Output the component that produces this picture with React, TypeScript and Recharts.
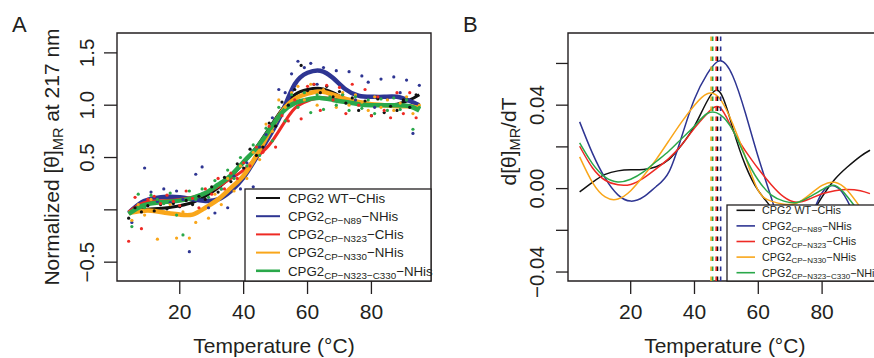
import React from "react";
import { ComposedChart, Line, Scatter, XAxis, YAxis, ReferenceArea, ReferenceLine } from "recharts";

const FONT = "'Liberation Sans', Arial, Helvetica, sans-serif";
const INK = "#231f20";

const SERIES_NAMES = ["CPG2 WT-CHis", "CPG2 CP-N89-NHis", "CPG2 CP-N323-CHis", "CPG2 CP-N330-NHis", "CPG2 CP-N323-C330-NHis"];
const COLORS = ["#111111", "#2e3592", "#ee2a24", "#f9a61a", "#2aa84a"];
const LEGEND_SUB = ["", "CP\u2212N89", "CP\u2212N323", "CP\u2212N330", "CP\u2212N323\u2212C330"];
const LEGEND_SUFFIX = [" WT\u2212CHis", "\u2212NHis", "\u2212CHis", "\u2212NHis", "\u2212NHis"];

// temperatures
const T_EVEN = [4, 6, 8, 10, 12, 14, 16, 18, 20, 22, 24, 26, 28, 30, 32, 34, 36, 38, 40, 42, 44, 46, 48, 50, 52, 54, 56, 58, 60, 62, 64, 66, 68, 70, 72, 74, 76, 78, 80, 82, 84, 86, 88, 90, 92, 94];
const T_ODD = [5, 7, 9, 11, 13, 15, 17, 19, 21, 23, 25, 27, 29, 31, 33, 35, 37, 39, 41, 43, 45, 47, 49, 51, 53, 55, 57, 59, 61, 63, 65, 67, 69, 71, 73, 75, 77, 79, 81, 83, 85, 87, 89, 91, 93, 95];
const T_FIT = [4, 8, 12, 16, 20, 24, 28, 32, 36, 40, 44, 48, 52, 56, 60, 64, 68, 72, 76, 80, 84, 88, 92, 95];

// Panel A measured points
const ptsBlack = [-0.08, 0.02, -0.02, 0.04, -0.01, 0.05, 0.01, 0.06, 0.03, 0.09, 0.05, 0.13, 0.10, 0.22, 0.17, 0.31, 0.27, 0.44, 0.40, 0.58, 0.52, 0.60, 0.83, 0.80, 1.03, 1.00, 1.15, 1.38, 1.14, 1.20, 1.12, 1.18, 1.08, 1.13, 1.02, 1.07, 0.95, 1.04, 0.90, 1.06, 0.93, 0.99, 0.95, 1.05, 0.98, 1.10];
const ptsBlue = [-0.12, 0.05, 0.40, 0.17, 0.08, 0.20, 0.07, 0.18, 0.10, -0.40, 0.34, 0.41, 0.02, -0.03, 0.20, 0.02, 0.32, 0.20, 0.45, 0.22, 0.60, 0.72, 0.88, 1.15, 1.12, 1.30, 1.42, 1.36, 1.40, 1.20, 1.36, 1.28, 1.33, 1.10, 1.32, 1.05, 1.28, 1.22, 0.98, 1.25, 1.06, 1.27, 1.12, 1.24, 0.73, 1.19];
const ptsRed = [-0.30, 0.12, -0.18, 0.10, 0.13, 0.06, 0.14, 0.08, 0.04, 0.18, 0.11, 0.02, 0.20, 0.15, 0.30, 0.20, 0.35, 0.30, 0.45, 0.42, 0.60, 0.55, 0.80, 0.60, 0.90, 0.85, 1.05, 0.87, 1.18, 1.20, 0.95, 1.19, 1.05, 1.17, 0.92, 1.20, 1.00, 1.15, 0.90, 1.08, 0.95, 0.88, 1.12, 0.92, 1.12, 0.88];
const ptsOrange = [-0.10, 0.05, -0.05, 0.10, -0.28, -0.02, 0.05, -0.27, -0.02, -0.27, -0.12, 0.00, -0.08, 0.15, 0.05, 0.30, 0.18, 0.42, 0.30, 0.55, 0.48, 0.82, 0.75, 1.05, 0.98, 1.12, 1.18, 1.05, 1.20, 1.00, 1.15, 1.10, 0.98, 1.12, 1.00, 1.10, 1.03, 0.95, 1.08, 0.98, 1.05, 0.95, 1.02, 1.08, 0.92, 1.00];
const ptsGreen = [-0.16, 0.15, 0.02, 0.14, 0.10, 0.06, 0.16, -0.05, -0.24, 0.18, 0.10, 0.20, 0.12, 0.28, 0.20, 0.38, 0.30, 0.50, 0.42, 0.62, 0.52, 0.78, 0.66, 0.98, 0.85, 1.10, 0.98, 1.12, 0.93, 1.10, 0.96, 1.08, 1.00, 1.10, 0.95, 1.08, 0.97, 1.05, 0.92, 1.06, 0.95, 1.07, 0.96, 1.05, 0.77, 0.98];

// Panel A fitted curves
const fitBlack = [-0.02, 0.0, 0.01, 0.02, 0.04, 0.07, 0.13, 0.21, 0.32, 0.45, 0.60, 0.78, 0.96, 1.10, 1.15, 1.16, 1.12, 1.06, 1.02, 1.00, 1.00, 1.01, 1.05, 1.10];
const fitBlue = [-0.03, 0.07, 0.11, 0.125, 0.12, 0.10, 0.085, 0.10, 0.18, 0.31, 0.50, 0.70, 0.93, 1.20, 1.31, 1.33, 1.26, 1.15, 1.09, 1.08, 1.08, 1.08, 1.04, 1.00];
const fitRed = [-0.02, 0.06, 0.085, 0.09, 0.10, 0.12, 0.16, 0.22, 0.30, 0.38, 0.50, 0.62, 0.80, 0.97, 1.04, 1.07, 1.06, 1.04, 1.02, 1.00, 1.00, 1.00, 0.99, 0.98];
const fitOrange = [-0.03, -0.01, -0.01, -0.03, -0.045, -0.045, 0.02, 0.10, 0.21, 0.33, 0.52, 0.74, 0.94, 1.06, 1.11, 1.13, 1.10, 1.06, 1.03, 1.01, 1.00, 0.99, 0.99, 0.97];
const fitGreen = [-0.04, 0.035, 0.065, 0.078, 0.088, 0.115, 0.16, 0.24, 0.33, 0.46, 0.59, 0.76, 0.93, 1.02, 1.055, 1.07, 1.05, 1.03, 1.01, 1.00, 1.00, 1.00, 0.99, 0.95];

// Panel B derivatives
const dBlack = [-0.0016, 0.003, 0.0068, 0.0085, 0.009, 0.0092, 0.0105, 0.014, 0.021, 0.030, 0.042, 0.0462, 0.029, 0.011, -0.001, -0.009, -0.018, -0.021, -0.014, -0.004, 0.0045, 0.0105, 0.0155, 0.0184];
const dBlue = [0.032, 0.017, 0.005, -0.003, -0.006, -0.004, 0.001, 0.008, 0.025, 0.043, 0.055, 0.0613, 0.054, 0.036, 0.015, -0.004, -0.022, -0.028, -0.016, -0.002, 0.0012, -0.006, -0.02, -0.03];
const dRed = [0.0203, 0.010, 0.004, 0.0018, 0.002, 0.005, 0.0095, 0.0145, 0.021, 0.029, 0.036, 0.0388, 0.028, 0.018, 0.0095, 0.002, -0.004, -0.0065, -0.005, -0.0025, -0.001, -0.0004, -0.001, -0.0024];
const dOrange = [0.0152, 0.003, -0.004, -0.005, -0.001, 0.006, 0.014, 0.023, 0.032, 0.040, 0.0455, 0.043, 0.031, 0.015, -0.001, -0.006, -0.0075, -0.007, -0.003, 0.0015, 0.003, -0.001, -0.009, -0.015];
const dGreen = [0.0219, 0.012, 0.0055, 0.0032, 0.0045, 0.008, 0.013, 0.018, 0.024, 0.030, 0.036, 0.0355, 0.028, 0.015, 0.004, -0.003, -0.006, -0.0067, -0.004, -0.0005, 0.0015, -0.004, -0.012, -0.018];

// melting temperatures (dashed lines), order: black, blue, red, orange, green
const TM = [47.2, 48.2, 46.8, 45.2, 45.7];

const X_TICKS = [20, 40, 60, 80];
const YA_TICKS = [-0.5, 0, 0.5, 1.0, 1.5];
const YB_TICKS = [-0.04, -0.02, 0, 0.02, 0.04, 0.06];
const XDOM: [number, number] = [0.35, 98.65];
const YA_DOM: [number, number] = [-0.68, 1.69];
const YB_DOM: [number, number] = [-0.0443, 0.0746];

const zip = (ts: number[], vs: number[]) => ts.map((t, i) => ({ t, v: vs[i] }));

const scatterSets = [zip(T_EVEN, ptsBlack), zip(T_ODD, ptsBlue), zip(T_EVEN, ptsRed), zip(T_ODD, ptsOrange), zip(T_ODD, ptsGreen)];
const fitSets = [fitBlack, fitBlue, fitRed, fitOrange, fitGreen].map((f) => zip(T_FIT, f));
const derivSets = [dBlack, dBlue, dRed, dOrange, dGreen].map((f) => zip(T_FIT, f));
const fitWidths = [3, 4.5, 3, 4.5, 4.5];

const minus = (v: number, d: number) => (v < 0 ? "\u2212" + Math.abs(v).toFixed(d) : v.toFixed(d));

const XTick = (props: any) => {
  const { x, y, payload } = props;
  return (
    <text x={x} y={y} textAnchor="middle" fontSize={21} fontFamily={FONT} fill={INK}>
      {payload.value}
    </text>
  );
};

const YTickA = (props: any) => {
  const { x, y, payload } = props;
  const v = payload.value;
  const label = Math.abs(v) < 1e-9 ? "" : minus(v, 1);
  return (
    <text x={x} y={y} transform={`rotate(-90 ${x} ${y})`} textAnchor="middle" fontSize={20.5} fontFamily={FONT} fill={INK}>
      {label}
    </text>
  );
};

const YTickB = (props: any) => {
  const { x, y, payload } = props;
  const v = payload.value;
  const show = Math.abs(v) < 1e-9 || Math.abs(Math.abs(v) - 0.04) < 1e-9;
  return (
    <text x={x} y={y} transform={`rotate(-90 ${x} ${y})`} textAnchor="middle" fontSize={20.5} fontFamily={FONT} fill={INK}>
      {show ? minus(v, 2) : ""}
    </text>
  );
};

const dot = (color: string) => (props: any) => <circle cx={props.cx} cy={props.cy} r={1.6} fill={color} />;

const tickLineStyle = { stroke: INK, strokeWidth: 1.3 };

function PanelA() {
  return (
    <ComposedChart width={440} height={358} margin={{ top: 33, right: 9, bottom: 0, left: 0 }}>
      <XAxis type="number" dataKey="t" domain={XDOM} ticks={X_TICKS} allowDataOverflow height={77} axisLine={false} tickLine={tickLineStyle} tickSize={13} tickMargin={25} tick={XTick} interval={0} />
      <YAxis type="number" dataKey="v" domain={YA_DOM} ticks={YA_TICKS} allowDataOverflow width={117} axisLine={false} tickLine={tickLineStyle} tickSize={13} tickMargin={10} tick={YTickA} interval={0} />
      <ReferenceArea x1={XDOM[0]} x2={XDOM[1]} y1={YA_DOM[0]} y2={YA_DOM[1]} fill="none" stroke={INK} strokeWidth={1.4} ifOverflow="visible" />
      {scatterSets.map((d, i) => (
        <Scatter key={"s" + i} name={SERIES_NAMES[i]} data={d} fill={COLORS[i]} shape={dot(COLORS[i])} isAnimationActive={false} />
      ))}
      {fitSets.map((d, i) => (
        <Line key={"l" + i} name={SERIES_NAMES[i]} data={d} dataKey="v" type="natural" stroke={COLORS[i]} strokeWidth={fitWidths[i]} dot={false} activeDot={false} isAnimationActive={false} />
      ))}
    </ComposedChart>
  );
}

function PanelB() {
  return (
    <ComposedChart width={450} height={358} margin={{ top: 33, right: 8.4, bottom: 0, left: 0 }}>
      <XAxis type="number" dataKey="t" domain={XDOM} ticks={X_TICKS} allowDataOverflow height={77} axisLine={false} tickLine={tickLineStyle} tickSize={13} tickMargin={25} tick={XTick} interval={0} />
      <YAxis type="number" dataKey="v" domain={YB_DOM} ticks={YB_TICKS} allowDataOverflow width={128} axisLine={false} tickLine={tickLineStyle} tickSize={12} tickMargin={12} tick={YTickB} interval={0} />
      <ReferenceArea x1={XDOM[0]} x2={XDOM[1]} y1={YB_DOM[0]} y2={YB_DOM[1]} fill="none" stroke={INK} strokeWidth={1.4} ifOverflow="visible" />
      {derivSets.map((d, i) => (
        <Line key={"d" + i} name={SERIES_NAMES[i]} data={d} dataKey="v" type="natural" stroke={COLORS[i]} strokeWidth={1.5} dot={false} activeDot={false} isAnimationActive={false} />
      ))}
      {TM.map((t, i) => (
        <ReferenceLine key={"tm" + i} x={t} stroke={COLORS[i]} strokeWidth={1.6} strokeDasharray="4.5 5.5" />
      ))}
    </ComposedChart>
  );
}

function LegendBox(props: { x: number; y: number; w: number; h: number; row0: number; step: number; lx1: number; lx2: number; tx: number; fs: number; sfs: number; sdy: number; lw: number[] }) {
  const { x, y, w, h, row0, step, lx1, lx2, tx, fs, sfs, sdy, lw } = props;
  return (
    <g>
      <rect x={x} y={y} width={w} height={h} fill="#fff" stroke={INK} strokeWidth={1.3} />
      {COLORS.map((c, i) => {
        const cy = row0 + i * step;
        return (
          <g key={i}>
            <line x1={lx1} x2={lx2} y1={cy} y2={cy} stroke={c} strokeWidth={lw[i]} />
            <text x={tx} y={cy + fs * 0.36} fontSize={fs} fontFamily={FONT} fill={INK}>
              CPG2
              {LEGEND_SUB[i] ? (
                <>
                  <tspan fontSize={sfs} dy={sdy}>{LEGEND_SUB[i]}</tspan>
                  <tspan dy={-sdy}>{LEGEND_SUFFIX[i]}</tspan>
                </>
              ) : (
                <tspan>{LEGEND_SUFFIX[i]}</tspan>
              )}
            </text>
          </g>
        );
      })}
    </g>
  );
}

export default function App() {
  return (
    <div style={{ position: "absolute", left: 0, top: 0, width: 874, height: 358, overflow: "hidden", background: "#fff" }}>
      <div style={{ position: "absolute", left: 0, top: 0 }}>
        <PanelA />
      </div>
      <div style={{ position: "absolute", left: 440, top: 0 }}>
        <PanelB />
      </div>
      <svg width={874} height={358} style={{ position: "absolute", left: 0, top: 0, pointerEvents: "none" }}>
        <text x={12} y={32} fontSize={22} fontFamily={FONT} fill={INK}>A</text>
        <text x={463} y={32} fontSize={22} fontFamily={FONT} fill={INK}>B</text>
        <text x={274} y={353} textAnchor="middle" fontSize={21} fontFamily={FONT} fill={INK}>Temperature (°C)</text>
        <text x={724.8} y={353} textAnchor="middle" fontSize={21} fontFamily={FONT} fill={INK}>Temperature (°C)</text>
        <text x={58.5} y={157} transform="rotate(-90 58.5 157)" textAnchor="middle" fontSize={21} fontFamily={FONT} fill={INK}>
          Normalized [θ]<tspan fontSize={14.5} dy={4}>MR</tspan><tspan dy={-4}> at 217 nm</tspan>
        </text>
        <text x={516} y={141.5} transform="rotate(-90 516 141.5)" textAnchor="middle" fontSize={21} fontFamily={FONT} fill={INK}>
          d[θ]<tspan fontSize={14.5} dy={4}>MR</tspan><tspan dy={-4}>/dT</tspan>
        </text>
        <LegendBox x={245} y={189} w={186} h={92} row0={198} step={18.2} lx1={256} lx2={280} tx={288} fs={13.3} sfs={9.8} sdy={3} lw={[2, 2, 2, 2, 2.6]} />
        <LegendBox x={727} y={205} w={200} h={76} row0={210.3} step={15.6} lx1={736.5} lx2={755} tx={762} fs={10.8} sfs={8} sdy={2.4} lw={[1.6, 1.6, 1.6, 1.6, 1.6]} />
      </svg>
    </div>
  );
}
